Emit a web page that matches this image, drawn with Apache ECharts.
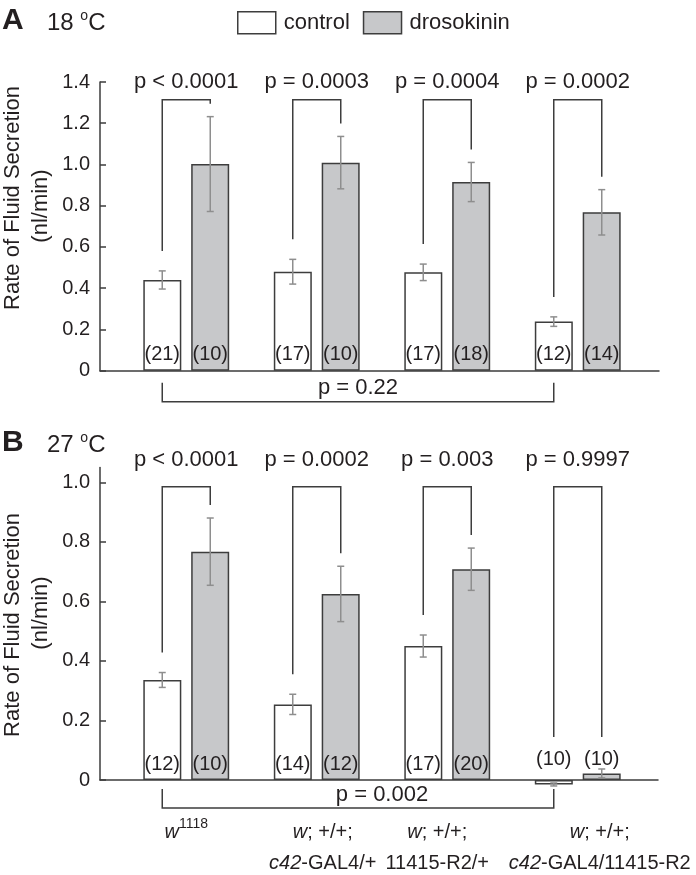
<!DOCTYPE html>
<html><head><meta charset="utf-8">
<script src="https://cdn.jsdelivr.net/npm/echarts@6/dist/echarts.min.js"></script>
<style>html,body{margin:0;padding:0;background:#fff}#c{width:696px;height:875px}</style>
</head><body><div id="c"></div>
<script>
// ---- data ----
const categories = ['w1118', 'w; +/+; c42-GAL4/+', 'w; +/+; 11415-R2/+', 'w; +/+; c42-GAL4/11415-R2'];
const categoryLabels = ['{i|w}{s|1118}', '{i|w}; +/+;\n{i|c42}-GAL4/+', '{i|w}; +/+;\n11415-R2/+', '{i|w}; +/+;\n{i|c42}-GAL4/11415-R2'];
const seriesNames = ['control', 'drosokinin'];

// Panel A: 18 °C
const ctrlA = [0.44, 0.48, 0.477, 0.238];
const ctrlErrA = [0.044, 0.06, 0.04, 0.023];
const drosoA = [1.002, 1.009, 0.915, 0.768];
const drosoErrA = [0.23, 0.127, 0.095, 0.11];
const nCtrlA = [21, 17, 17, 12];
const nDrosoA = [10, 10, 18, 14];
const pA = ['p < 0.0001', 'p = 0.0003', 'p = 0.0004', 'p = 0.0002'];
const pAcrossA = 'p = 0.22';
const yTicksA = [0, 0.2, 0.4, 0.6, 0.8, 1.0, 1.2, 1.4];

// Panel B: 27 °C
const ctrlB = [0.336, 0.254, 0.45, -0.015];
const ctrlErrB = [0.025, 0.034, 0.037, 0.005];
const drosoB = [0.767, 0.625, 0.708, 0.022];
const drosoErrB = [0.113, 0.093, 0.071, 0.015];
const nCtrlB = [12, 14, 17, 10];
const nDrosoB = [10, 12, 20, 10];
const pB = ['p < 0.0001', 'p = 0.0002', 'p = 0.003', 'p = 0.9997'];
const pAcrossB = 'p = 0.002';
const yTicksB = [0, 0.2, 0.4, 0.6, 0.8, 1.0];

// ---- styles / layout ----
const FONT = '"Liberation Sans", Arial, Helvetica, sans-serif';
const TXT = '#231f20', LINE = '#3d3d3d', ERR = '#8e8e8e', GREY = '#c7c8ca';
const OFF = 24;
const LABEL_PAD = [[0, 0, 0, 0], [0, 0, 0, 12], [0, 20, 0, 0], [0, 0, 0, 44]];

const txt = (t, x, y, size) => ({type: 'text', style: {text: t, x: x, y: y, fontSize: size, fontFamily: FONT, fill: TXT, align: 'center', verticalAlign: 'middle'}});
const pl = (pts, color) => ({type: 'polyline', shape: {points: pts}, style: {stroke: color, lineWidth: 1.5, fill: null}});

function annot(P, axisIdx, L) {
  return {
    type: 'custom', xAxisIndex: axisIdx, yAxisIndex: axisIdx, clip: false, silent: true, z: 5,
    data: P.ctrl.map((v, i) => [i, v]),
    encode: {x: 0, y: 1},
    renderItem: function (params, api) {
      const i = params.dataIndex;
      const px = v => api.coord([i, v]);
      const base = px(0)[1], cx = px(0)[0];
      const xs = [cx - OFF, cx + OFF];
      const vals = [P.ctrl[i], P.dro[i]], errs = [P.ctrlErr[i], P.droErr[i]], ns = [P.nCtrl[i], P.nDro[i]];
      const kids = [], errTops = [];
      let small = false;
      for (let k = 0; k < 2; k++) {
        const yt = px(vals[k] + errs[k])[1], yb = px(vals[k] - errs[k])[1];
        errTops.push(yt);
        kids.push(pl([[xs[k], yt], [xs[k], yb]], ERR));
        kids.push(pl([[xs[k] - 3.5, yt], [xs[k] + 3.5, yt]], ERR));
        kids.push(pl([[xs[k] - 3.5, yb], [xs[k] + 3.5, yb]], ERR));
        if (Math.abs(base - px(vals[k])[1]) < 30) small = true;
      }
      const labelY = small ? base - 21 : base - 16;
      ns.forEach((n, k) => kids.push(txt('(' + n + ')', xs[k], labelY, 20)));
      const by = px(P.bracket)[1];
      let l0 = errTops[0] - 20, l1 = errTops[1] - 13;
      if (small) { l0 = Math.min(l0, labelY - 22); l1 = Math.min(l1, labelY - 22); }
      kids.push(pl([[xs[0], l0], [xs[0], by], [xs[1], by], [xs[1], l1]], LINE));
      kids.push(txt(P.p[i], cx, by - L.pGap, 22));
      if (i === 0) {
        const last = P.ctrl.length - 1;
        const x0 = cx - OFF, x1 = api.coord([last, 0])[0] - OFF;
        kids.push(pl([[x0, base + L.aTop], [x0, base + L.aBot], [x1, base + L.aBot], [x1, base + L.aTop]], LINE));
        kids.push(txt(P.pAll, (x0 + x1) / 2 + L.aDx, base + L.aText, 22));
      }
      return {type: 'group', children: kids};
    }
  };
}

const PA = {ctrl: ctrlA, ctrlErr: ctrlErrA, dro: drosoA, droErr: drosoErrA, nCtrl: nCtrlA, nDro: nDrosoA, p: pA, pAll: pAcrossA, bracket: 1.314};
const PB = {ctrl: ctrlB, ctrlErr: ctrlErrB, dro: drosoB, droErr: drosoErrB, nCtrl: nCtrlB, nDro: nDrosoB, p: pB, pAll: pAcrossB, bracket: 0.985};

const yFmt = v => (v === 0 ? '0' : v.toFixed(1));
function frameY(gi, max, ticks) {
  return {
    gridIndex: gi, type: 'value', min: 0, max: max, interval: 0.2,
    axisLine: {show: true, lineStyle: {color: LINE, width: 1.5}},
    axisTick: {show: true, inside: true, length: 6, lineStyle: {color: LINE, width: 1.5}, customValues: ticks},
    axisLabel: {show: true, margin: 10, fontSize: 20, fontFamily: FONT, color: TXT, customValues: ticks,
      formatter: v => (ticks.some(t => Math.abs(t - v) < 1e-9) ? yFmt(v) : '')},
    splitLine: {show: false}
  };
}
function hiddenY(gi, max) {
  return {gridIndex: gi, type: 'value', min: 0, max: max, show: false, splitLine: {show: false}};
}
function frameX(gi) {
  return {gridIndex: gi, type: 'value', min: 0, max: 1,
    axisLine: {show: true, onZero: true, lineStyle: {color: LINE, width: 1.5}},
    axisTick: {show: false}, axisLabel: {show: false}, splitLine: {show: false}};
}
function barX(gi, showLabels) {
  return {gridIndex: gi, type: 'category',
    data: showLabels ? categoryLabels.map((v, i) => ({value: v, textStyle: {padding: LABEL_PAD[i]}})) : categories,
    axisLine: {show: false}, axisTick: {show: false},
    axisLabel: showLabels ? {
      show: true, interval: 0, margin: 37, fontSize: 20, fontFamily: FONT, color: TXT, lineHeight: 31, align: 'center',
      rich: {
        i: {fontStyle: 'italic', fontSize: 20, fontFamily: FONT, color: TXT, lineHeight: 31},
        s: {fontSize: 14, fontFamily: FONT, color: TXT, lineHeight: 16, verticalAlign: 'top'}
      }
    } : {show: false},
    splitLine: {show: false}};
}
function bars(name, data, idx, fill) {
  return {type: 'bar', name: name, xAxisIndex: idx, yAxisIndex: idx, data: data, barWidth: 38, barGap: '26%',
    clip: false, silent: true, z: 3,
    itemStyle: {color: fill, borderColor: LINE, borderWidth: 1.5}};
}
function title(letter, temp, y) {
  return [
    {type: 'text', x: 2, y: y, style: {text: letter, x: 0, y: 0, fontSize: 30, fontWeight: 'bold', fontFamily: FONT, fill: TXT, align: 'left', verticalAlign: 'middle'}},
    {type: 'text', x: 47, y: y + 2, style: {text: temp + ' {o|o}C', x: 0, y: 0, fontSize: 24, fontFamily: FONT, fill: TXT, align: 'left', verticalAlign: 'middle',
      lineHeight: 28, rich: {o: {fontSize: 14, fontFamily: FONT, fill: TXT, lineHeight: 14, verticalAlign: 'top'}}}}
  ];
}
function yName(x1, y1, x2, y2) {
  const st = t => ({text: t, x: 0, y: 0, fontSize: 22, fontFamily: FONT, fill: TXT, align: 'center', verticalAlign: 'middle'});
  return [
    {type: 'text', x: x1, y: y1, rotation: Math.PI / 2, style: st('Rate of Fluid Secretion')},
    {type: 'text', x: x2, y: y2, rotation: Math.PI / 2, style: st('(nl/min)')}
  ];
}
const gridBox = (l, r, t, b) => ({left: l, right: r, top: t, bottom: b, outerBoundsMode: 'none', containLabel: false});

const option = {
  animation: false,
  backgroundColor: '#fff',
  textStyle: {fontFamily: FONT},
  legend: {
    left: 237, top: 11, padding: 0, itemWidth: 38, itemHeight: 22, itemGap: 13, icon: 'rect',
    textStyle: {fontSize: 22, fontFamily: FONT, color: TXT, padding: [0, 0, 0, 3]},
    data: [
      {name: seriesNames[0], itemStyle: {color: '#fff', borderColor: LINE, borderWidth: 1.5}},
      {name: seriesNames[1], itemStyle: {color: GREY, borderColor: LINE, borderWidth: 1.5}}
    ]
  },
  grid: [
    gridBox(100, 37, 82, 504.3),
    gridBox(121, 53, 82, 504.3),
    gridBox(100, 38, 467.4, 95),
    gridBox(121, 53, 467.4, 95)
  ],
  xAxis: [frameX(0), barX(1, false), frameX(2), barX(3, true)],
  yAxis: [frameY(0, 1.4, yTicksA), hiddenY(1, 1.4), frameY(2, 1.05, yTicksB), hiddenY(3, 1.05)],
  graphic: {elements: [].concat(
    title('A', '18', 21),
    title('B', '27', 443),
    yName(13, 198, 41, 206),
    yName(13, 625, 41, 613)
  )},
  series: [
    bars(seriesNames[0], ctrlA, 1, '#fff'),
    bars(seriesNames[1], drosoA, 1, GREY),
    bars(seriesNames[0], ctrlB, 3, '#fff'),
    bars(seriesNames[1], drosoB, 3, GREY),
    annot(PA, 1, {pGap: 18, aTop: 12, aBot: 31, aText: 17, aDx: 0}),
    annot(PB, 3, {pGap: 27, aTop: 9, aBot: 28, aText: 15, aDx: 24})
  ]
};
const chart = echarts.init(document.getElementById('c'), null, {renderer: 'canvas'});
chart.setOption(option);
</script></body></html>
